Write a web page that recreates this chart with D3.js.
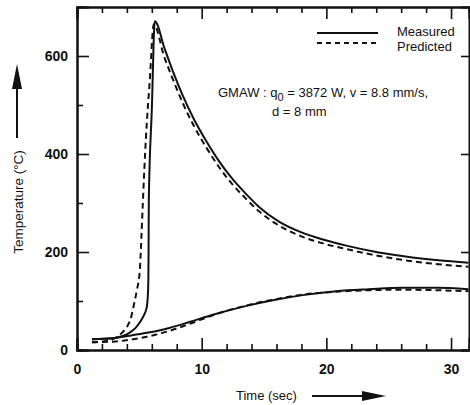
<!DOCTYPE html>
<html>
<head>
<meta charset="utf-8">
<script src="https://cdn.jsdelivr.net/npm/d3@7"></script>
<style>
  body { margin: 0; background: #fff; }
  text { font-family: "Liberation Sans", Arial, sans-serif; fill: #111; }
</style>
</head>
<body>
<div id="myPlot"></div>
<script>
// Set Dimensions
const width = 470;
const height = 405;
const margin = {left: 77, top: 7, right: 1, bottom: 55};
const xMax = width - margin.left - margin.right;
const yMax = height - margin.top - margin.bottom;

// Data (time in s, temperature in deg C)
const measuredUpperT = [1.2, 2.9, 3.6, 4.2, 4.7, 5.0, 5.35, 5.6, 5.68, 5.72, 5.74, 5.76, 6.0, 6.24,
  7.04, 7.7, 8.5, 9.4, 10.4, 11.4, 12.5, 13.5, 14.6, 16.2, 18.0, 19.8, 21.6, 24.2, 26.9, 29.0, 31.4];
const measuredUpperV = [22, 24, 28, 35, 45, 55, 70, 88, 110, 140, 200, 306, 490, 671,
  614, 568, 518, 470, 425, 385, 348, 320, 292, 262, 240, 225, 213, 199, 189, 183, 178];
const predictedUpperT = [1.2, 2.24, 3.04, 3.6, 4.0, 4.32, 4.56, 4.8, 5.04, 5.12, 5.28, 5.52, 5.84, 6.16,
  7.0, 7.7, 8.5, 9.4, 10.4, 11.4, 12.5, 13.5, 14.6, 16.2, 18.0, 19.8, 21.6, 24.2, 26.9, 29.0, 31.4];
const predictedUpperV = [16, 18, 24, 35, 47, 65, 92, 122, 163, 204, 300, 429, 551, 665,
  598, 552, 503, 456, 412, 373, 337, 310, 283, 254, 232, 217, 206, 192, 181, 175, 170];
const measuredLowerT = [1.2, 2.9, 4.2, 5.6, 7.4, 9.0, 10.9, 13.6, 15.8, 18.1, 20.8, 23.4, 26.1, 28.8, 31.4];
const measuredLowerV = [22, 24, 29, 35, 45, 57, 72, 90, 102, 112, 120, 124, 127, 127, 124];
const predictedLowerT = [1.2, 2.9, 4.5, 5.6, 7.4, 9.0, 10.9, 13.6, 15.8, 18.1, 20.8, 23.4, 26.1, 28.8, 31.4];
const predictedLowerV = [16, 17, 22, 27, 39, 53, 71, 91, 103, 113, 119, 122, 123, 122, 120];

const xTicks = [0, 10, 20, 30];
const yTicks = [0, 200, 400, 600];
const legendLabels = ["Measured", "Predicted"];

const zip = (a, b) => a.map((d, i) => [d, b[i]]);

// Append SVG Object to the Page
const root = d3.select("#myPlot")
  .append("svg")
  .attr("width", width)
  .attr("height", height);

const svg = root.append("g")
  .attr("transform", "translate(" + margin.left + "," + margin.top + ")");

// Scales
const x = d3.scaleLinear().domain([0, 31.44]).range([0, xMax]);
const y = d3.scaleLinear().domain([0, 700]).range([yMax, 0]);

const minorX = d3.range(0, 32, 2).filter(d => d % 10 !== 0);
const minorY = d3.range(100, 700, 100).filter(d => d % 200 !== 0);

// Axes, ticks pointing inward
function styleAxis(g) {
  g.select(".domain").attr("stroke", "#111").attr("stroke-width", 2);
  g.selectAll(".tick line").attr("stroke", "#111").attr("stroke-width", 1.6);
  g.selectAll(".tick text")
    .style("font-size", "14px")
    .style("font-weight", "bold");
}

svg.append("g")
  .attr("transform", "translate(0," + yMax + ")")
  .call(d3.axisBottom(x).tickValues(xTicks).tickSize(-12).tickPadding(8).tickFormat(d3.format("d")))
  .call(styleAxis)
  .call(g => g.selectAll(".tick text").attr("dy", "1.15em"));

svg.append("g")
  .attr("transform", "translate(0," + yMax + ")")
  .call(d3.axisBottom(x).tickValues(minorX).tickSize(-6).tickFormat(""))
  .call(styleAxis);

svg.append("g")
  .call(d3.axisLeft(y).tickValues(yTicks).tickSize(-12).tickPadding(9).tickFormat(d3.format("d")))
  .call(styleAxis);

svg.append("g")
  .call(d3.axisLeft(y).tickValues(minorY).tickSize(-6).tickFormat(""))
  .call(styleAxis);

svg.append("g")
  .call(d3.axisTop(x).tickValues(xTicks).tickSize(-12).tickFormat(""))
  .call(styleAxis);

svg.append("g")
  .call(d3.axisTop(x).tickValues(minorX).tickSize(-6).tickFormat(""))
  .call(styleAxis);

svg.append("g")
  .attr("transform", "translate(" + xMax + ",0)")
  .call(d3.axisRight(y).tickValues(yTicks).tickSize(-8).tickFormat(""))
  .call(styleAxis);

// Curves
const line = d3.line()
  .x(d => x(d[0]))
  .y(d => y(d[1]))
  .curve(d3.curveMonotoneX);

const curves = [
  {pts: zip(measuredUpperT, measuredUpperV), dash: null},
  {pts: zip(measuredLowerT, measuredLowerV), dash: null},
  {pts: zip(predictedUpperT, predictedUpperV), dash: "6,4"},
  {pts: zip(predictedLowerT, predictedLowerV), dash: "6,4"}
];

svg.append("g")
  .selectAll("path")
  .data(curves).enter()
  .append("path")
  .attr("d", d => line(d.pts))
  .attr("fill", "none")
  .attr("stroke", "#111")
  .attr("stroke-width", 2)
  .attr("stroke-dasharray", d => d.dash);

// Legend
const legend = root.append("g");
legendLabels.forEach((lab, i) => {
  legend.append("line")
    .attr("x1", 317).attr("x2", 378)
    .attr("y1", 33 + i * 10).attr("y2", 33 + i * 10)
    .attr("stroke", "#111").attr("stroke-width", 2)
    .attr("stroke-dasharray", i === 1 ? "5,4" : null);
  legend.append("text")
    .attr("x", 397).attr("y", 36 + i * 15)
    .style("font-size", "13px")
    .text(lab);
});

// Annotation
const note = root.append("text")
  .attr("x", 218).attr("y", 97)
  .style("font-size", "13px");
note.append("tspan").text("GMAW : q");
note.append("tspan").attr("dy", 4).style("font-size", "11px").text("0");
note.append("tspan").attr("dy", -4).text(" = 3872 W, v = 8.8 mm/s,");

root.append("text")
  .attr("x", 272).attr("y", 116)
  .style("font-size", "13px")
  .text("d  = 8 mm");

// Axis labels with arrows
root.append("text")
  .attr("transform", "translate(23,202) rotate(-90)")
  .attr("text-anchor", "middle")
  .style("font-size", "13.5px")
  .text("Temperature (\u00B0C)");

root.append("line")
  .attr("x1", 17).attr("x2", 17).attr("y1", 138).attr("y2", 85)
  .attr("stroke", "#111").attr("stroke-width", 2);
root.append("path")
  .attr("d", "M17,64 L12,89 L22,89 Z")
  .attr("fill", "#111");

root.append("text")
  .attr("x", 236).attr("y", 400)
  .style("font-size", "13px")
  .text("Time (sec)");

root.append("line")
  .attr("x1", 312).attr("x2", 368).attr("y1", 396).attr("y2", 396)
  .attr("stroke", "#111").attr("stroke-width", 2);
root.append("path")
  .attr("d", "M386,396 L362,391 L362,401 Z")
  .attr("fill", "#111");
</script>
</body>
</html>
